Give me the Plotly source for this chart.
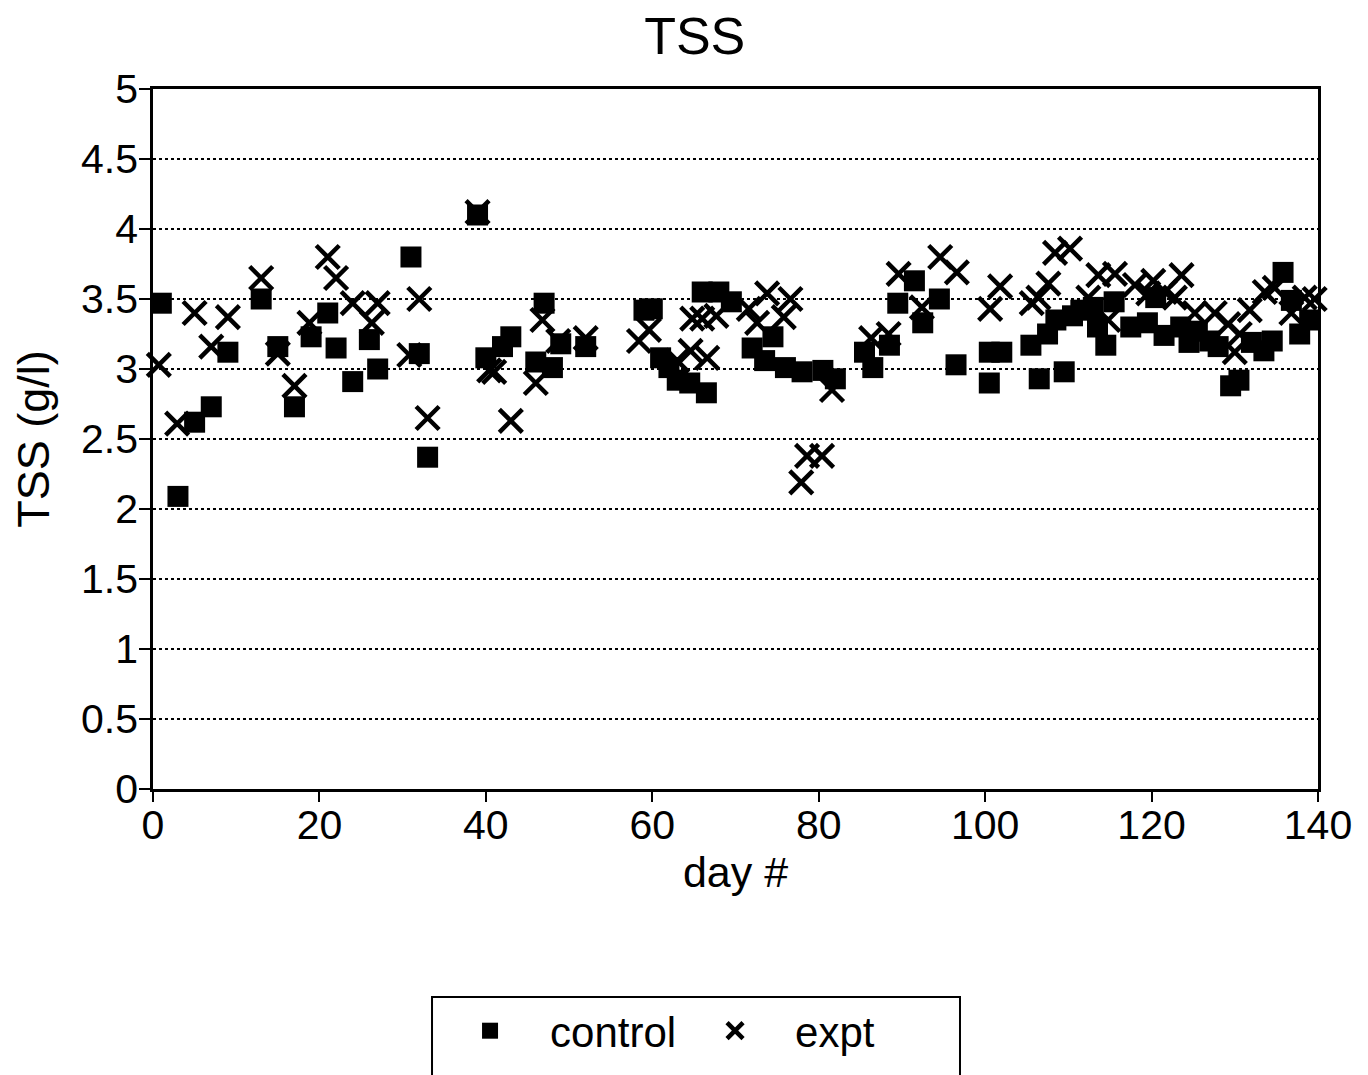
import plotly.graph_objects as go

control_day = [1, 3, 5, 7, 9, 13, 15, 17, 19, 21, 22, 24, 26, 27, 31, 32, 33, 39, 40, 42, 43,
               46, 47, 48, 49, 52, 59, 60, 61, 62, 63, 64.5, 66, 66.5, 68, 69.5, 72, 73.5, 74.5, 76,
               78, 80.5, 82, 85.5, 86.5, 88.5, 89.5, 91.5, 92.5, 94.5, 96.5, 100.5, 100.5, 102,
               105.5, 106.5, 107.5, 108.5, 109.5, 110.5, 111.5, 113, 113.5, 114.5, 115.5, 117.5,
               119.5, 120.5, 121.5, 123.5, 124.5, 125.5, 127, 128, 129.5, 130.5, 132, 133.5,
               134.5, 135.8, 136.8, 137.8, 139]
control_tss = [3.47, 2.09, 2.62, 2.73, 3.12, 3.50, 3.16, 2.73, 3.23, 3.40, 3.15, 2.91, 3.21, 3.00,
               3.80, 3.11, 2.37, 4.10, 3.08, 3.16, 3.23, 3.05, 3.47, 3.01, 3.18, 3.16, 3.42, 3.43,
               3.08, 3.01, 2.92, 2.90, 3.55, 2.83, 3.55, 3.48, 3.15, 3.06, 3.23, 3.01, 2.98, 2.99,
               2.93, 3.12, 3.01, 3.17, 3.47, 3.63, 3.33, 3.50, 3.03, 3.12, 2.90, 3.12, 3.17, 2.93,
               3.25, 3.35, 2.98, 3.38, 3.42, 3.44, 3.30, 3.17, 3.48, 3.30, 3.33, 3.51, 3.24, 3.30,
               3.19, 3.27, 3.20, 3.16, 2.88, 2.92, 3.19, 3.13, 3.20, 3.69, 3.49, 3.25, 3.35]

expt_day = [0.7, 2.9, 5, 7, 9, 13, 15, 17, 18.8, 21, 22, 24, 26.3, 27, 30.8, 32, 33, 39, 40.4,
            41, 43, 46, 46.8, 48.7, 52, 58.4, 59.6, 63, 64.6, 64.8, 66.6, 66, 67.7, 71.6, 72.6,
            73.8, 75.8, 76.6, 77.9, 78.6, 80.4, 81.6, 86.3, 88.4, 89.6, 92.4, 94.6, 96.6, 100.6,
            101.8, 105.6, 106.4, 107.6, 108.4, 110.2, 112.4, 113.6, 114.8, 115.6, 118, 119.6,
            120.2, 121.6, 122.8, 123.6, 125.2, 127.6, 129.2, 130, 130.6, 131.8, 133.6, 134.8,
            136.8, 138.4, 139.6]
expt_tss = [3.03, 2.61, 3.40, 3.16, 3.37, 3.65, 3.11, 2.88, 3.33, 3.80, 3.65, 3.47, 3.33, 3.47,
            3.10, 3.50, 2.65, 4.12, 2.99, 2.98, 2.63, 2.90, 3.35, 3.20, 3.22, 3.20, 3.28, 3.06,
            3.13, 3.36, 3.08, 3.36, 3.38, 3.43, 3.33, 3.54, 3.37, 3.50, 2.19, 2.38, 2.38, 2.85,
            3.22, 3.25, 3.68, 3.44, 3.80, 3.69, 3.43, 3.59, 3.47, 3.51, 3.61, 3.83, 3.86, 3.51,
            3.67, 3.35, 3.68, 3.60, 3.54, 3.63, 3.55, 3.51, 3.67, 3.40, 3.40, 3.32, 3.12, 3.25,
            3.42, 3.55, 3.58, 3.40, 3.51, 3.50]

x_ticks = [0, 20, 40, 60, 80, 100, 120, 140]
y_ticks = [0, 0.5, 1, 1.5, 2, 2.5, 3, 3.5, 4, 4.5, 5]
y_tick_text = ["0", "0.5", "1", "1.5", "2", "2.5", "3", "3.5", "4", "4.5", "5"]

FONT = "Liberation Sans, Arial, sans-serif"

fig = go.Figure()
fig.add_trace(go.Scatter(
    x=control_day, y=control_tss, mode="markers", name="control",
    marker=dict(symbol="square", size=21, color="black", line=dict(width=0)),
    cliponaxis=False,
))
fig.add_trace(go.Scatter(
    x=expt_day, y=expt_tss, mode="markers", name="expt",
    marker=dict(symbol="x-thin", size=23, color="black", line=dict(width=4.5, color="black")),
    cliponaxis=False,
))

# legend frame (extends below the bottom of the page as in the reference)
fig.add_shape(type="rect", xref="paper", yref="paper",
              x0=0.2395, x1=0.6927, y0=-0.2971, y1=-0.44,
              line=dict(color="black", width=2), fillcolor="rgba(0,0,0,0)", layer="above")

fig.update_layout(
    width=1368, height=1075,
    paper_bgcolor="white", plot_bgcolor="white",
    margin=dict(l=145, r=58, t=81, b=294),
    font=dict(family=FONT, color="black", size=40),
    title=dict(text="TSS", x=0.502, xanchor="center", y=0.974, yanchor="middle",
               font=dict(size=52, family=FONT, color="black")),
    showlegend=True,
    legend=dict(
        orientation="h", x=0.2378, xanchor="left", y=-0.297, yanchor="top",
        borderwidth=0, bgcolor="rgba(0,0,0,0)",
        font=dict(size=42, family=FONT, color="black"),
        itemsizing="trace", entrywidth=120, itemwidth=110,
    ),
    xaxis=dict(
        range=[0, 140], tickvals=x_ticks, ticktext=[str(v) for v in x_ticks],
        showgrid=False, zeroline=False,
        showline=True, linecolor="black", linewidth=2.5, mirror=True,
        ticks="outside", ticklen=10, tickwidth=2, tickcolor="black",
        ticklabelstandoff=-12,
        tickfont=dict(size=41, family=FONT, color="black"),
        title=dict(text="day #", font=dict(size=43, family=FONT, color="black"), standoff=10),
    ),
    yaxis=dict(
        range=[0, 5], tickvals=y_ticks, ticktext=y_tick_text,
        showgrid=True, gridcolor="black", gridwidth=2, griddash="dot",
        zeroline=False,
        showline=True, linecolor="black", linewidth=2.5, mirror=True,
        ticks="outside", ticklen=11, tickwidth=2, tickcolor="black",
        ticklabelstandoff=-7,
        tickfont=dict(size=41, family=FONT, color="black"),
        title=dict(text="TSS (g/l)", font=dict(size=45, family=FONT, color="black"), standoff=28),
    ),
)

fig.write_html("out.html")
